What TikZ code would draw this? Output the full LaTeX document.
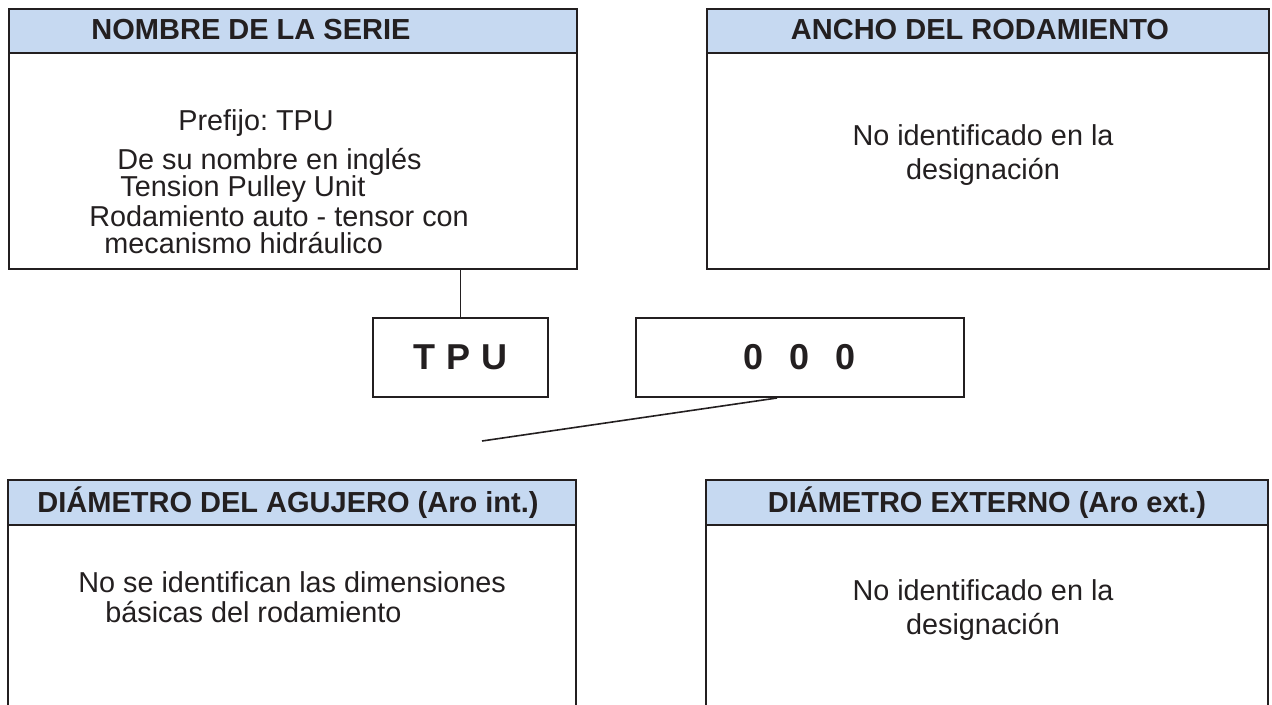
\documentclass[tikz,border=0pt]{standalone}
\usepackage{fontspec}
\setmainfont{Liberation Sans}
\usetikzlibrary{positioning}

\definecolor{headblue}{RGB}{198,217,241}
\definecolor{boxline}{RGB}{35,31,32}

\tikzset{
	panel/.style = {draw = boxline, line width = 1pt, anchor = north west, minimum width = 284pt, minimum height = 130pt, inner sep = 0pt},
	panel head/.style = {draw = boxline, fill = headblue, line width = 1pt, anchor = north west, minimum width = 284pt, minimum height = 22pt, inner sep = 0pt},
	head text/.style = {font = \fontsize{14.5}{17}\selectfont\bfseries, text = boxline, inner sep = 0pt},
	body text/.style = {font = \fontsize{14.4}{17}\selectfont, text = boxline, inner sep = 0pt},
	code box/.style = {draw = boxline, line width = 1pt, minimum height = 39.5pt, font = \fontsize{18}{21}\selectfont\bfseries, text = boxline}
}

\begin{document}
\frenchspacing
\begin{tikzpicture}[x = 0.5pt, y = -0.5pt]
		\useasboundingbox (0,0) rectangle (1272,705);
		
		% upper panels
		\node [panel] (serie) at (8,8) {};
		\node [panel head] (serie head) at (8,8) {};
		\node [head text] (serie title) at (251,30) {NOMBRE DE LA SERIE};
		\node [body text, anchor = west] (prefijo) at (178,123) {Prefijo: TPU};
		\node [body text, anchor = west] (nombre1) at (117,162) {De su nombre en inglés};
		\node [body text, anchor = west] (nombre2) at (120,189) {Tension Pulley Unit};
		\node [body text, anchor = west] (nombre3) at (89,216) {Rodamiento auto - tensor con};
		\node [body text, anchor = west] (nombre4) at (104,243) {mecanismo hidráulico};
		
		\node [panel, minimum width = 281pt] (ancho) at (706,8) {};
		\node [panel head, minimum width = 281pt] (ancho head) at (706,8) {};
		\node [head text] (ancho title) at (980,30) {ANCHO DEL RODAMIENTO};
		\node [body text, align = center] (ancho text) at (983,155) {No identificado en la\\designación};
		
		% designation
		\node [code box, minimum width = 87.5pt] (tpu) at (460.5,357.5) {T\hspace{5.5pt}P\hspace{5.5pt}U};
		\node [code box, minimum width = 164pt] (cifras) at (800,357.5) {0\hspace{13pt}0\hspace{13pt}0};
		
		\draw [boxline, line width = 0.8pt] (tpu.north) -- (tpu.north |- serie.south);
		\coordinate (agujero end) at (482,441);
		\draw [boxline, line width = 0.8pt] (cifras.south -| 777,0) -- (agujero end);
		
		% lower panels, open at the bottom
		\fill [headblue] (8,480) rectangle (576,525);
		\draw [boxline, line width = 1pt] (8,705) -- (8,480) -- (576,480) -- (576,705);
		\draw [boxline, line width = 1pt] (8,525) -- (576,525);
		\node [head text] (agujero title) at (288,503) {DIÁMETRO DEL AGUJERO (Aro int.)};
		\node [body text, anchor = west] (agujero1) at (78,582) {No se identifican las dimensiones};
		\node [body text, anchor = west] (agujero2) at (105,612) {básicas del rodamiento};
		
		\fill [headblue] (706,480) rectangle (1268,525);
		\draw [boxline, line width = 1pt] (706,705) -- (706,480) -- (1268,480) -- (1268,705);
		\draw [boxline, line width = 1pt] (706,525) -- (1268,525);
		\node [head text] (externo title) at (987,503) {DIÁMETRO EXTERNO (Aro ext.)};
		\node [body text, align = center] (externo text) at (983,610) {No identificado en la\\designación};
	\end{tikzpicture}
\end{document}
